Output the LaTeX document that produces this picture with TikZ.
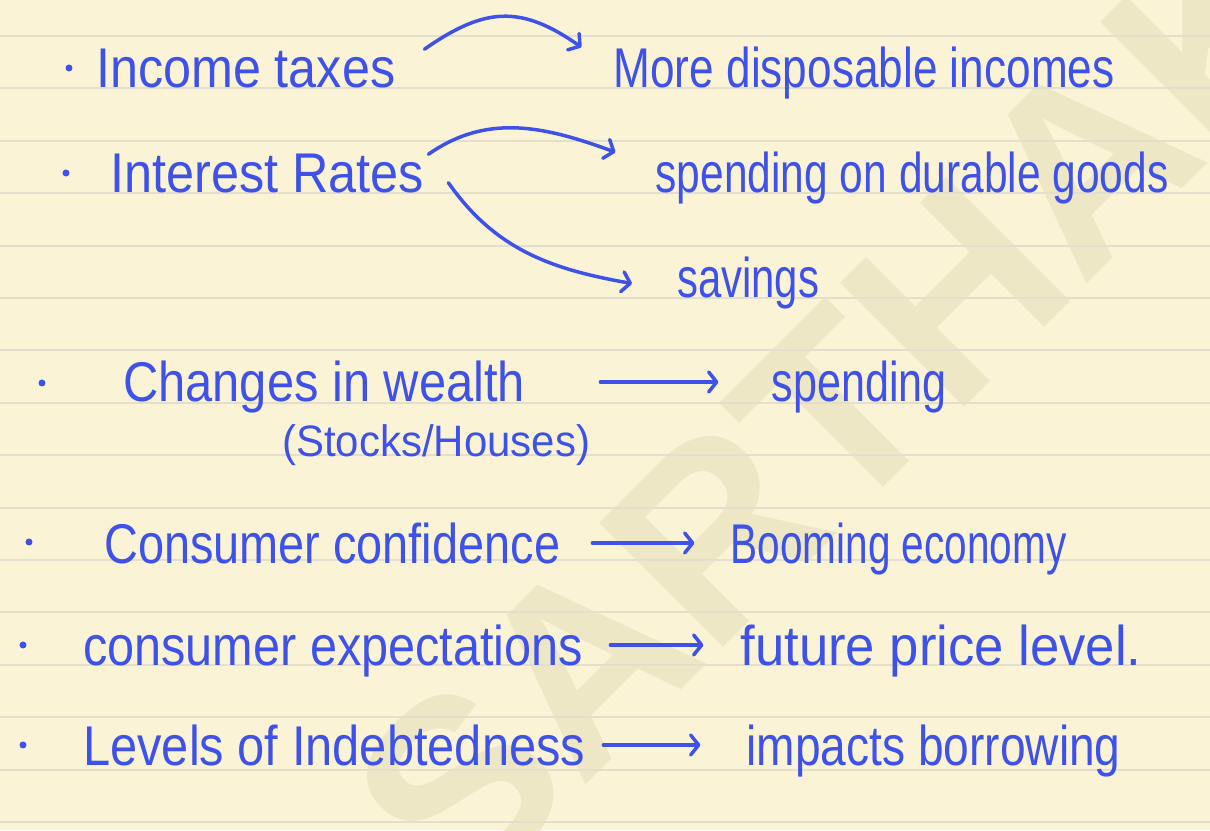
\documentclass[tikz,border=0pt]{standalone}
\usepackage{fontspec}
\setmainfont{Liberation Sans}
\usetikzlibrary{positioning, arrows.meta}

\definecolor{paperbg}{RGB}{251,243,214}
\definecolor{paperline}{RGB}{227,223,204}
\definecolor{wmark}{RGB}{238,231,198}
\definecolor{ink}{RGB}{62,82,233}

% squeeze handwriting to its width on the page
\newcommand{\hw}[2]{\resizebox{#1pt}{\height}{#2}}

\begin{document}
\begin{tikzpicture}[
        x=1pt, y=1pt,
        hand/.style={
                anchor=base west,
                inner sep=0pt,
                text=ink,
                font=\fontsize{56}{60}\selectfont
            },
        smallhand/.style={hand, font=\fontsize{44}{48}\selectfont},
        bullet/.style={circle, fill=ink, inner sep=0pt, minimum size=7pt},
        arr/.style={->, draw=ink, line width=3.5pt, line cap=round},
        watermark/.style={text=wmark, font=\fontsize{255}{255}\selectfont\bfseries},
        >={Straight Barb[length=8pt, width=20pt, round]}
    ]
    \useasboundingbox (0,0) rectangle (1210,830);
    \clip (0,0) rectangle (1210,830);
    \fill[paperbg] (0,0) rectangle (1210,830);

    \node[watermark, rotate=45] (wm) at (900,483) {SARTHAKS};
    \foreach \k in {0,...,15}
        \draw[paperline, line width=2pt] (0,{794-52.4*\k}) -- (1210,{794-52.4*\k});

    \foreach \bx/\by [count=\i] in {69/762, 66/657, 42/447, 29/288, 23/185, 23/85}
        \node[bullet] (b\i) at (\bx,\by) {};

    \node[hand] (itax) at (96,742) {\hw{299}{Income taxes}};
    \node[right=218pt of itax.base east, hand] (mdi) {\hw{501}{More disposable incomes}};

    \node[hand] (irate) at (110,637) {\hw{314}{Interest Rates}};
    \node[right=231pt of irate.base east, hand] (sdg) {\hw{513}{spending on durable goods}};
    \node[hand] (sav) at (677,532) {\hw{142}{savings}};

    \node[hand] (cw) at (123,428) {\hw{402}{Changes in wealth}};
    \node[smallhand] (sh) at (282,373) {\hw{308}{(Stocks/Houses)}};
    \node[right=246pt of cw.base east, hand] (spd) {\hw{175}{spending}};

    \node[hand] (cc) at (104,266) {\hw{456}{Consumer confidence}};
    \node[right=170pt of cc.base east, hand] (be) {\hw{336}{Booming economy}};

    \node[hand] (ce) at (83,164) {\hw{500}{consumer expectations}};
    \node[right=157pt of ce.base east, hand] (fpl) {\hw{401}{future price level.}};

    \node[hand] (li) at (83,64) {\hw{502}{Levels of Indebtedness}};
    \node[right=161pt of li.base east, hand] (ib) {\hw{374}{impacts borrowing}};

    % curved ones
    \draw[arr] ([xshift=29pt]itax.north east) to[out=35, in=145, looseness=1.2] ([xshift=-32pt]mdi.north west);
    \draw[arr] ([xshift=4pt]irate.north east) to[out=35, in=160] ([xshift=-40pt]sdg.north west);
    \draw[arr] ([shift={(24pt,11pt)}]irate.south east) to[out=-55, in=170] ([xshift=-45pt]sav.west);

    % straight ones
    \draw[arr, shorten <=75pt, shorten >=53pt] ([yshift=20pt]cw.base east) -- ([yshift=20pt]spd.base west);
    \draw[arr, shorten <=32pt, shorten >=36pt] ([yshift=21pt]cc.base east) -- ([yshift=21pt]be.base west);
    \draw[arr, shorten <=27pt, shorten >=37pt] ([yshift=21pt]ce.base east) -- ([yshift=21pt]fpl.base west);
    \draw[arr, shorten <=18pt, shorten >=46pt] ([yshift=21pt]li.base east) -- ([yshift=21pt]ib.base west);
\end{tikzpicture}
\end{document}
